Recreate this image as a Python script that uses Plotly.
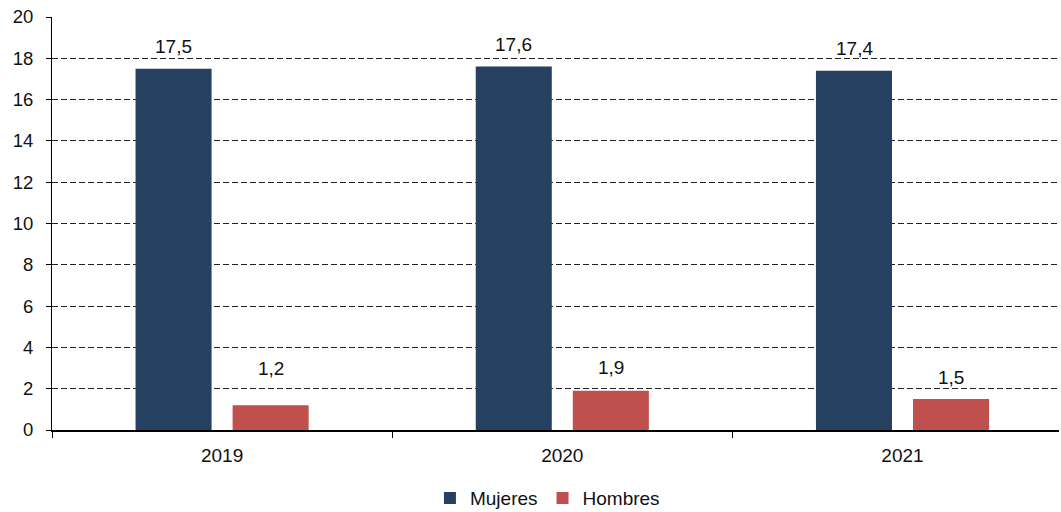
import plotly.graph_objects as go

years = ["2019", "2020", "2021"]
mujeres = [17.5, 17.6, 17.4]
hombres = [1.2, 1.9, 1.5]
label_mujeres = ["17,5", "17,6", "17,4"]
label_hombres = ["1,2", "1,9", "1,5"]
shift_mujeres = [22, 22, 22]
shift_hombres = [37, 23, 22]
y_ticks = [0, 2, 4, 6, 8, 10, 12, 14, 16, 18, 20]

C_M = "#264061"
C_H = "#C0504D"
FONT = "Liberation Sans, Arial, sans-serif"

fig = go.Figure()
fig.add_trace(go.Bar(name="Mujeres", x=years, y=mujeres, marker=dict(color=C_M, line=dict(width=0))))
fig.add_trace(go.Bar(name="Hombres", x=years, y=hombres, marker=dict(color=C_H, line=dict(width=0))))

for i, y in enumerate(years):
    fig.add_annotation(x=i, y=mujeres[i], text=label_mujeres[i], showarrow=False,
                       xshift=-48.5, yshift=shift_mujeres[i], font=dict(size=19, color="#111"))
    fig.add_annotation(x=i, y=hombres[i], text=label_hombres[i], showarrow=False,
                       xshift=48.5, yshift=shift_hombres[i], font=dict(size=19, color="#111"))

fig.update_layout(
    width=1061, height=512,
    margin=dict(l=52, r=2, t=17, b=82, autoexpand=False),
    paper_bgcolor="white", plot_bgcolor="white",
    barmode="group", bargap=0.4294, bargroupgap=0.2165,
    font=dict(family=FONT, size=19, color="#111"),
    showlegend=True,
    legend=dict(orientation="h", x=0.492, xanchor="center", y=-0.165, yanchor="middle",
                font=dict(size=19), itemwidth=30, traceorder="normal"),
    xaxis=dict(type="category", range=[-0.5, 2.46], tickson="boundaries", ticks="outside", ticklen=6,
               tickcolor="black", showline=True, linecolor="black", linewidth=1.5,
               showgrid=False, tickfont=dict(size=19), tickangle=0, ticklabelstandoff=7),
    yaxis=dict(range=[0, 20], tickvals=y_ticks, ticks="outside", ticklen=5,
               tickcolor="black", showline=True, linecolor="black", linewidth=1,
               showgrid=True, gridcolor="#222", gridwidth=1, griddash="6px,3px",
               zeroline=False, tickfont=dict(size=18.5), ticklabelstandoff=9),
)

fig.write_html("out.html")
